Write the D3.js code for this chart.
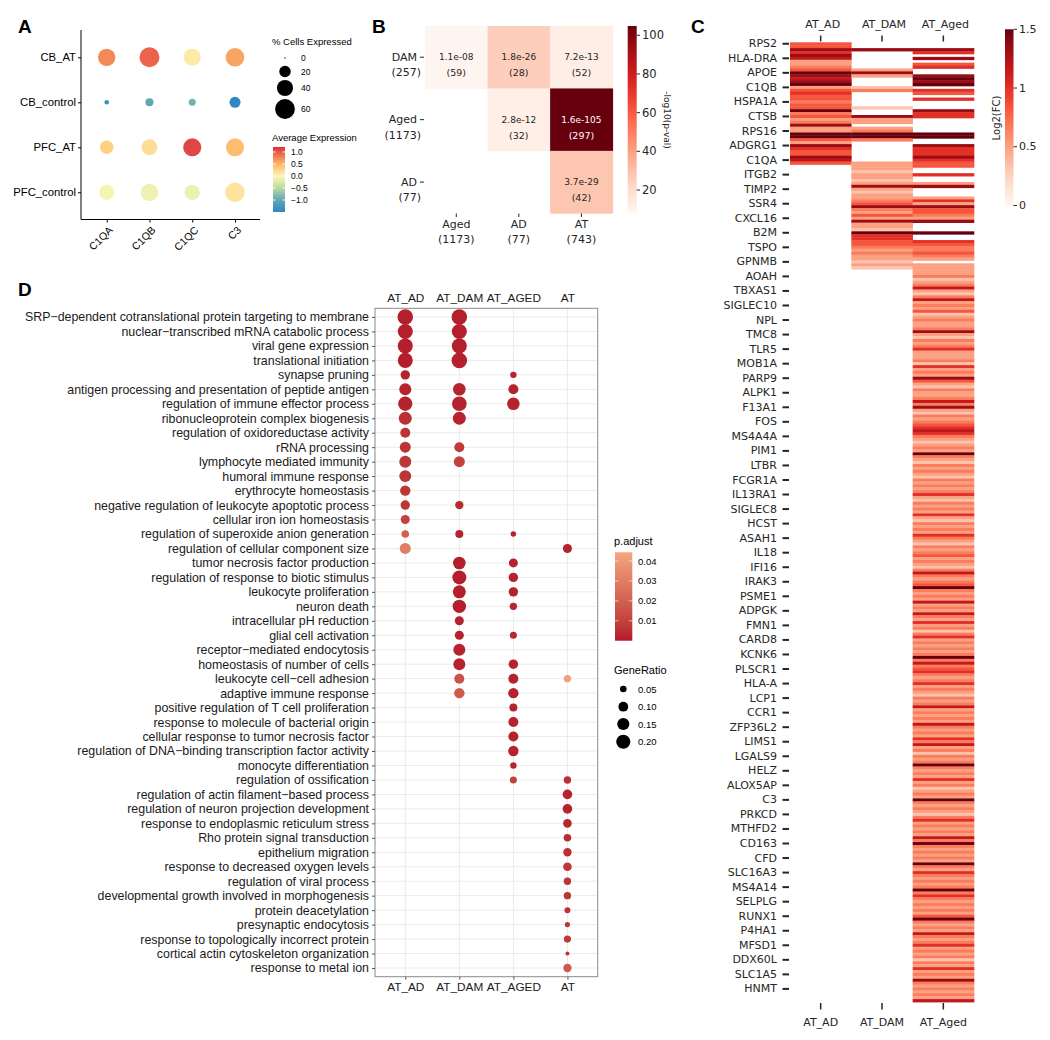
<!DOCTYPE html>
<html><head><meta charset="utf-8">
<script src="https://cdn.jsdelivr.net/npm/d3@7"></script>
<style>body{margin:0;background:#fff} svg{display:block}</style>
</head><body><svg id="c" width="1050" height="1040"></svg>
<script>
// ---------------- Panel A data ----------------
const aGenes = ["C1QA","C1QB","C1QC","C3"];
const aGroups = ["CB_AT","CB_control","PFC_AT","PFC_control"];
const aPct = [[46,61,44,53],[3.3,9.8,7.5,18.6],[28,39,50,50],[35,46,36,58]];
const aAvg = [[0.75,0.95,0.1,0.6],[-1.35,-1.0,-0.9,-1.5],[0.3,0.2,1.1,0.45],[-0.05,-0.1,-0.12,0.15]];
const aPctBreaks = [0,20,40,60];
const aAvgTicks = [1.0,0.5,0.0,-0.5,-1.0];

// ---------------- Panel B data ----------------
const bRows = ["DAM","Aged","AD"];
const bRowN = [257,1173,77];
const bCols = ["Aged","AD","AT"];
const bColN = [1173,77,743];
const bPval = [["1.1e-08","1.8e-26","7.2e-13"],[null,"2.8e-12","1.6e-105"],[null,null,"3.7e-29"]];
const bOverlap = [[59,28,52],[null,32,297],[null,null,42]];
const bTicks = [20,40,60,80,100];

// ---------------- Panel C data ----------------
const cCols = ["AT_AD","AT_DAM","AT_Aged"];
const cLabels = ["RPS2","HLA-DRA","APOE","C1QB","HSPA1A","CTSB","RPS16","ADGRG1","C1QA","ITGB2","TIMP2","SSR4","CXCL16","B2M","TSPO","GPNMB","AOAH","TBXAS1","SIGLEC10","NPL","TMC8","TLR5","MOB1A","PARP9","ALPK1","F13A1","FOS","MS4A4A","PIM1","LTBR","FCGR1A","IL13RA1","SIGLEC8","HCST","ASAH1","IL18","IFI16","IRAK3","PSME1","ADPGK","FMN1","CARD8","KCNK6","PLSCR1","HLA-A","LCP1","CCR1","ZFP36L2","LIMS1","LGALS9","HELZ","ALOX5AP","C3","PRKCD","MTHFD2","CD163","CFD","SLC16A3","MS4A14","SELPLG","RUNX1","P4HA1","MFSD1","DDX60L","SLC1A5","HNMT"];
const cLabelStep = 5;
// one character per gene row: '.' = not significant, digit d = log2FC of d/6
const cAD = "5586873345 9878935655 4559453483 3995386558 75";
const cDAM = "..8......3 83...24... ..2..833.3 4994...... .333233238 3233458435 3833296655 43433232";
const cAged = "..86.8.56. .8989.65.6 ...866.... .99..86668 655..6..38 ...3638554 38...9..65 44543.33 " +
  "3342347324 7343523433 4832434633 3426343853 2433474832 4345676432 3439432434 3243434632 " +
  "4343632434 3643243453 4324743459 4343734374 3634246343 4349474564 3463432434 7343437434 " +
  "3647342434 9434363423 4394343246 3434374943 4343943643 4349464343 4359434374 3463434243 634384343437";
const cTicks = [0,0.5,1,1.5];

// ---------------- Panel D data ----------------
const dTerms = ["SRP−dependent cotranslational protein targeting to membrane","nuclear−transcribed mRNA catabolic process","viral gene expression","translational initiation","synapse pruning","antigen processing and presentation of peptide antigen","regulation of immune effector process","ribonucleoprotein complex biogenesis","regulation of oxidoreductase activity","rRNA processing","lymphocyte mediated immunity","humoral immune response","erythrocyte homeostasis","negative regulation of leukocyte apoptotic process","cellular iron ion homeostasis","regulation of superoxide anion generation","regulation of cellular component size","tumor necrosis factor production","regulation of response to biotic stimulus","leukocyte proliferation","neuron death","intracellular pH reduction","glial cell activation","receptor−mediated endocytosis","homeostasis of number of cells","leukocyte cell−cell adhesion","adaptive immune response","positive regulation of T cell proliferation","response to molecule of bacterial origin","cellular response to tumor necrosis factor","regulation of DNA−binding transcription factor activity","monocyte differentiation","regulation of ossification","regulation of actin filament−based process","regulation of neuron projection development","response to endoplasmic reticulum stress","Rho protein signal transduction","epithelium migration","response to decreased oxygen levels","regulation of viral process","developmental growth involved in morphogenesis","protein deacetylation","presynaptic endocytosis","response to topologically incorrect protein","cortical actin cytoskeleton organization","response to metal ion"];
const dCols = ["AT_AD","AT_DAM","AT_AGED","AT"];
// [term number (1-based), GeneRatio, p.adjust]
const dAD = [[1,0.24,0.001],[2,0.225,0.001],[3,0.225,0.001],[4,0.225,0.001],[5,0.093,0.002],[6,0.146,0.002],[7,0.205,0.002],[8,0.17,0.005],[9,0.104,0.006],[10,0.124,0.006],[11,0.146,0.007],[12,0.146,0.006],[13,0.112,0.007],[14,0.093,0.007],[15,0.086,0.010],[16,0.063,0.020],[17,0.124,0.030]];
const dDAM = [[1,0.24,0.001],[2,0.225,0.001],[3,0.225,0.001],[4,0.24,0.001],[6,0.16,0.002],[7,0.213,0.002],[8,0.17,0.002],[10,0.104,0.008],[11,0.124,0.010],[14,0.075,0.004],[16,0.069,0.002],[18,0.16,0.001],[19,0.196,0.001],[20,0.17,0.001],[21,0.18,0.001],[22,0.086,0.002],[23,0.086,0.002],[24,0.146,0.002],[25,0.146,0.002],[26,0.104,0.015],[27,0.112,0.018]];
const dAGED = [[5,0.047,0.002],[6,0.104,0.002],[7,0.16,0.002],[16,0.036,0.002],[18,0.086,0.002],[19,0.093,0.002],[20,0.093,0.002],[21,0.06,0.003],[23,0.055,0.003],[25,0.093,0.002],[26,0.104,0.002],[27,0.112,0.002],[28,0.069,0.002],[29,0.104,0.002],[30,0.104,0.002],[31,0.112,0.002],[32,0.047,0.003],[33,0.055,0.010]];
const dAT = [[17,0.086,0.002],[26,0.06,0.043],[33,0.06,0.005],[34,0.096,0.002],[35,0.096,0.002],[36,0.079,0.003],[37,0.063,0.004],[38,0.075,0.005],[39,0.079,0.007],[40,0.06,0.006],[41,0.06,0.006],[42,0.042,0.006],[43,0.034,0.006],[44,0.057,0.008],[45,0.023,0.006],[46,0.075,0.018]];
const dRatioBreaks = [0.05,0.10,0.15,0.20];
const dPadjTicks = [0.01,0.02,0.03,0.04];

// =====================================================
const svg = d3.select("#c");
svg.append("rect").attr("width",1050).attr("height",1040).attr("fill","#fff");
const defs = svg.append("defs");
const SANS = "'Liberation Sans', Arial, Helvetica, sans-serif";
const MPL = "'DejaVu Sans', sans-serif";
function letter(t,x,y){svg.append("text").attr("x",x).attr("y",y).text(t).attr("font-family",SANS).attr("font-weight","bold").attr("font-size",19);}
letter("A",18,33); letter("B",372,33); letter("C",691,33); letter("D",18,296);

// ---------------- Panel A ----------------
(function(){
  const g = svg.append("g").attr("font-family",SANS);
  const x = d3.scalePoint().domain(aGenes).range([106.7,235]);
  const y = d3.scalePoint().domain(aGroups).range([57.3,192.3]);
  const r = d3.scaleSqrt().domain([0,60]).range([0,9.9]);
  const col = d3.scaleLinear().domain([-1.5,-1,-0.5,0,0.5,1,1.21])
    .range(["#2f86c2","#5ea7b6","#b8dc9c","#fbf7b6","#fdb567","#e9574a","#d7303f"]).interpolate(d3.interpolateLab).clamp(true);
  const xa = g.append("g").attr("transform","translate(0,219.5)").call(d3.axisBottom(x).tickSize(3).tickFormat(""));
  xa.select(".domain").attr("d","M81,0H260").attr("stroke","#000");
  xa.selectAll(".tick line").attr("stroke","#000");
  const ya = g.append("g").attr("transform","translate(81,0)").call(d3.axisLeft(y).tickSize(3));
  ya.select(".domain").attr("d","M0,30V219.5").attr("stroke","#000");
  ya.selectAll(".tick line").attr("stroke","#000");
  ya.selectAll(".tick text").attr("font-size",11.3).attr("font-family",SANS).attr("fill","#000").attr("x",-5);
  aGenes.forEach(gn=>{
    g.append("text").attr("transform",`translate(${x(gn)+4},228) rotate(-45)`).attr("text-anchor","end")
      .attr("dominant-baseline","central").attr("font-size",10.5).text(gn);
  });
  aGroups.forEach((gr,i)=>aGenes.forEach((gn,j)=>{
    g.append("circle").attr("cx",x(gn)).attr("cy",y(gr)).attr("r",r(aPct[i][j])).attr("fill",col(aAvg[i][j]));
  }));
  // legends
  g.append("text").attr("x",272).attr("y",45).attr("font-size",9.5).text("% Cells Expressed");
  const ly = [58,71.5,88,109];
  aPctBreaks.forEach((p,i)=>{
    g.append("circle").attr("cx",285).attr("cy",ly[i]).attr("r",Math.max(r(p),0.7)).attr("fill","#000");
    g.append("text").attr("x",301).attr("y",ly[i]).attr("dominant-baseline","central").attr("font-size",8.5).text(p);
  });
  g.append("text").attr("x",272).attr("y",141).attr("font-size",9.5).text("Average Expression");
  const cy = d3.scaleLinear().domain([-1,1]).range([200,152]);
  const gr = defs.append("linearGradient").attr("id","gA").attr("x1",0).attr("y1",1).attr("x2",0).attr("y2",0);
  d3.range(0,1.001,0.05).forEach(t=>{const v=-1.5+t*2.71; gr.append("stop").attr("offset",t).attr("stop-color",col(v));});
  g.append("rect").attr("x",273).attr("y",cy(1.21)).attr("width",12).attr("height",cy(-1.5)-cy(1.21)).attr("fill","url(#gA)");
  aAvgTicks.forEach(v=>{
    g.append("line").attr("x1",273).attr("x2",275.5).attr("y1",cy(v)).attr("y2",cy(v)).attr("stroke","#fff");
    g.append("line").attr("x1",282.5).attr("x2",285).attr("y1",cy(v)).attr("y2",cy(v)).attr("stroke","#fff");
    g.append("text").attr("x",291).attr("y",cy(v)).attr("dominant-baseline","central").attr("font-size",8.5)
      .text(v===0?"0.0":(v<0?"−":"")+Math.abs(v).toFixed(1));
  });
})();

// ---------------- Panel B ----------------
(function(){
  const g = svg.append("g").attr("font-family",MPL).attr("fill","#262626");
  const x = d3.scaleBand().domain(bCols).range([425,612.7]);
  const y = d3.scaleBand().domain(bRows).range([26,213.3]);
  const vals = bPval.flat().filter(v=>v).map(v=>-Math.log10(+v));
  const lo = d3.min(vals), hi = d3.max(vals);
  const c = d3.scaleSequential(d3.interpolateReds).domain([lo,hi]);
  bRows.forEach((rw,i)=>bCols.forEach((cl,j)=>{
    const p = bPval[i][j]; if(!p) return;
    const v = -Math.log10(+p);
    g.append("rect").attr("x",x(cl)).attr("y",y(rw)).attr("width",x.bandwidth()+0.4).attr("height",y.bandwidth()+0.4).attr("fill",c(v));
    const tc = v>60?"#fff":"#262626";
    const cx = x(cl)+x.bandwidth()/2, cyy = y(rw)+y.bandwidth()/2;
    g.append("text").attr("x",cx).attr("y",cyy).attr("text-anchor","middle").attr("dominant-baseline","central").attr("font-size",9).attr("fill",tc).text(p);
    g.append("text").attr("x",cx).attr("y",cyy+15.5).attr("text-anchor","middle").attr("dominant-baseline","central").attr("font-size",9.5).attr("fill",tc).text(`(${bOverlap[i][j]})`);
  }));
  bRows.forEach((rw,i)=>{
    const cyy = y(rw)+y.bandwidth()/2;
    g.append("line").attr("x1",420).attr("x2",424).attr("y1",cyy).attr("y2",cyy).attr("stroke","#262626");
    g.append("text").attr("x",417).attr("y",cyy).attr("text-anchor","end").attr("dominant-baseline","central").attr("font-size",11).text(rw);
    g.append("text").attr("x",421).attr("y",cyy+15.5).attr("text-anchor","end").attr("dominant-baseline","central").attr("font-size",11).text(`(${bRowN[i]})`);
  });
  bCols.forEach((cl,j)=>{
    const cx = x(cl)+x.bandwidth()/2;
    g.append("line").attr("x1",cx).attr("x2",cx).attr("y1",213.5).attr("y2",217).attr("stroke","#262626");
    g.append("text").attr("x",cx).attr("y",224).attr("text-anchor","middle").attr("dominant-baseline","central").attr("font-size",11).text(cl);
    g.append("text").attr("x",cx).attr("y",239).attr("text-anchor","middle").attr("dominant-baseline","central").attr("font-size",11).text(`(${bColN[j]})`);
  });
  const cs = d3.scaleLinear().domain([lo,hi]).range([213.3,26]);
  const gr = defs.append("linearGradient").attr("id","gB").attr("x1",0).attr("y1",1).attr("x2",0).attr("y2",0);
  d3.range(0,1.001,0.05).forEach(t=>gr.append("stop").attr("offset",t).attr("stop-color",d3.interpolateReds(t)));
  g.append("rect").attr("x",627.7).attr("y",26).attr("width",9).attr("height",187.3).attr("fill","url(#gB)");
  bTicks.forEach(t=>{
    g.append("line").attr("x1",636.7).attr("x2",640).attr("y1",cs(t)).attr("y2",cs(t)).attr("stroke","#262626");
    g.append("text").attr("x",642).attr("y",cs(t)).attr("dominant-baseline","central").attr("font-size",11.5).text(t);
  });
  g.append("text").attr("transform","translate(667,120) rotate(90)").attr("text-anchor","middle").attr("dominant-baseline","central").attr("font-size",9).text("-log10(p-val)");
})();

// ---------------- Panel C ----------------
(function(){
  const g = svg.append("g").attr("font-family",MPL).attr("fill","#262626");
  const decode = s => s.replace(/\s/g,"").split("").map(ch=>ch==="."?null:(+ch)/6);
  const aged = decode(cAged); const n = aged.length;
  const pad = a => a.concat(new Array(n-a.length).fill(null));
  const cols = [pad(decode(cAD)), pad(decode(cDAM)), aged];
  const x = d3.scaleBand().domain(cCols).range([790,974]);
  const y = d3.scaleBand().domain(d3.range(n)).range([42.3,1002]);
  const c = d3.scaleSequential(d3.interpolateReds).domain([0,1.5]);
  cCols.forEach((cl,j)=>{
    cols[j].forEach((v,i)=>{
      if(v===null) return;
      g.append("rect").attr("x",x(cl)).attr("y",y(i)).attr("width",x.bandwidth()+0.3).attr("height",y.bandwidth()+0.4).attr("fill",c(v));
    });
  });
  const ya = g.append("g").attr("transform","translate(790,0)")
    .call(d3.axisLeft(y).tickValues(d3.range(0,n,cLabelStep).slice(0,cLabels.length)).tickFormat((d,i)=>cLabels[i]).tickSize(7).tickPadding(6));
  ya.select(".domain").remove();
  ya.selectAll(".tick line").attr("stroke","#262626").attr("stroke-width",2).attr("x2",-7).attr("x1",-0.5).attr("transform","translate(-0.5,0)");
  ya.selectAll(".tick text").attr("font-family",MPL).attr("font-size",11).attr("fill","#262626");
  cCols.forEach(cl=>{
    const cx = x(cl)+x.bandwidth()/2;
    g.append("line").attr("x1",cx).attr("x2",cx).attr("y1",35.5).attr("y2",41.5).attr("stroke","#262626").attr("stroke-width",1.5);
    g.append("text").attr("x",cx+2).attr("y",24).attr("text-anchor","middle").attr("dominant-baseline","central").attr("font-size",11).text(cl);
    g.append("line").attr("x1",cx).attr("x2",cx).attr("y1",1003).attr("y2",1009.5).attr("stroke","#262626").attr("stroke-width",1.5);
    g.append("text").attr("x",cx).attr("y",1022).attr("text-anchor","middle").attr("dominant-baseline","central").attr("font-size",11).text(cl);
  });
  const cs = d3.scaleLinear().domain([0,1.5]).range([205.5,29.3]);
  const gr = defs.append("linearGradient").attr("id","gC").attr("x1",0).attr("y1",1).attr("x2",0).attr("y2",0);
  d3.range(0,1.001,0.05).forEach(t=>gr.append("stop").attr("offset",t).attr("stop-color",d3.interpolateReds(t)));
  g.append("rect").attr("x",1005).attr("y",29.3).attr("width",8.5).attr("height",176.2).attr("fill","url(#gC)");
  cTicks.forEach(t=>{
    g.append("line").attr("x1",1013.5).attr("x2",1017).attr("y1",cs(t)).attr("y2",cs(t)).attr("stroke","#262626");
    g.append("text").attr("x",1019).attr("y",cs(t)).attr("dominant-baseline","central").attr("font-size",11).text(t);
  });
  g.append("text").attr("transform","translate(996,118) rotate(-90)").attr("text-anchor","middle").attr("dominant-baseline","central").attr("font-size",10).text("Log2(FC)");
})();

// ---------------- Panel D ----------------
(function(){
  const g = svg.append("g").attr("font-family",SANS);
  const L=375, R=597.7, T=308.3, B=976.7;
  const x = d3.scalePoint().domain(dCols).range([L,R]).padding(0.56);
  const y = d3.scalePoint().domain(dTerms).range([T,B]).padding(0.6);
  const area = d3.scaleLinear().domain([0.05,0.20]).range([11,50]);
  const r = v => Math.sqrt(Math.max(area(v),2));
  const c = d3.scaleLinear().domain([0,0.0444]).range(["#b2182b","#f4a582"]).interpolate(d3.interpolateLab);
  g.append("rect").attr("x",L).attr("y",T).attr("width",R-L).attr("height",B-T).attr("fill","#fff");
  dTerms.forEach(t=>g.append("line").attr("x1",L).attr("x2",R).attr("y1",y(t)).attr("y2",y(t)).attr("stroke","#ebebeb").attr("stroke-width",1));
  dCols.forEach(cl=>g.append("line").attr("x1",x(cl)).attr("x2",x(cl)).attr("y1",T).attr("y2",B).attr("stroke","#ebebeb").attr("stroke-width",1));
  g.append("rect").attr("x",L).attr("y",T).attr("width",R-L).attr("height",B-T).attr("fill","none").attr("stroke","#8a8a8a").attr("stroke-width",1);
  const ya = g.append("g").attr("transform",`translate(${L},0)`).call(d3.axisLeft(y).tickSize(3).tickPadding(3));
  ya.select(".domain").remove();
  ya.selectAll(".tick line").attr("stroke","#555");
  ya.selectAll(".tick text").attr("font-family",SANS).attr("font-size",12.4).attr("fill","#1a1a1a");
  const xb = g.append("g").attr("transform",`translate(0,${B})`).call(d3.axisBottom(x).tickSize(3).tickPadding(3));
  xb.select(".domain").remove();
  xb.selectAll(".tick line").attr("stroke","#555");
  xb.selectAll(".tick text").attr("font-family",SANS).attr("font-size",11.8).attr("fill","#1a1a1a");
  const xt = g.append("g").attr("transform",`translate(0,${T})`).call(d3.axisTop(x).tickSize(0).tickPadding(6));
  xt.select(".domain").remove();
  xt.selectAll(".tick text").attr("font-family",SANS).attr("font-size",11.8).attr("fill","#1a1a1a");
  [dAD,dDAM,dAGED,dAT].forEach((arr,j)=>arr.forEach(([ti,gr,p])=>{
    g.append("circle").attr("cx",x(dCols[j])).attr("cy",y(dTerms[ti-1])).attr("r",r(gr)).attr("fill",c(p));
  }));
  // legends
  g.append("text").attr("x",614).attr("y",545).attr("font-size",11).text("p.adjust");
  const cs = d3.scaleLinear().domain([0,0.0444]).range([640.7,552.3]);
  const grd = defs.append("linearGradient").attr("id","gD").attr("x1",0).attr("y1",1).attr("x2",0).attr("y2",0);
  d3.range(0,1.001,0.1).forEach(t=>grd.append("stop").attr("offset",t).attr("stop-color",c(t*0.0444)));
  g.append("rect").attr("x",615).attr("y",552.3).attr("width",17.3).attr("height",88.4).attr("fill","url(#gD)");
  dPadjTicks.forEach(t=>{
    g.append("line").attr("x1",615).attr("x2",618.5).attr("y1",cs(t)).attr("y2",cs(t)).attr("stroke","#fff").attr("stroke-opacity",0.6);
    g.append("line").attr("x1",628.8).attr("x2",632.3).attr("y1",cs(t)).attr("y2",cs(t)).attr("stroke","#fff").attr("stroke-opacity",0.6);
    g.append("text").attr("x",638).attr("y",cs(t)).attr("dominant-baseline","central").attr("font-size",9.5).text(t.toFixed(2));
  });
  g.append("text").attr("x",614).attr("y",674).attr("font-size",11).text("GeneRatio");
  const ly=[689,706.7,724,741.7];
  dRatioBreaks.forEach((b,i)=>{
    g.append("circle").attr("cx",623.3).attr("cy",ly[i]).attr("r",r(b)).attr("fill","#000");
    g.append("text").attr("x",638).attr("y",ly[i]).attr("dominant-baseline","central").attr("font-size",9.5).text(b.toFixed(2));
  });
})();
</script></body></html>
